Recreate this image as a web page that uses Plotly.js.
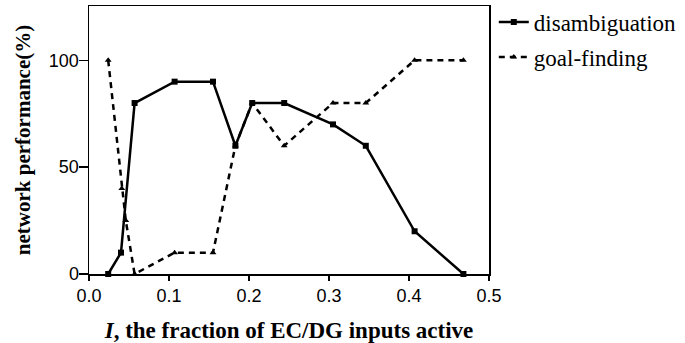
<!DOCTYPE html>
<html>
<head>
<meta charset="utf-8">
<script src="https://cdn.plot.ly/plotly-3.0.1.min.js"></script>
<style>html,body{margin:0;padding:0;background:#fff;}#chart{width:685px;height:343px;}</style>
</head>
<body>
<div id="chart"></div>
<script>
const disambigX = [0.024, 0.040, 0.057, 0.107, 0.155, 0.183, 0.204, 0.244, 0.305, 0.346, 0.407, 0.468];
const disambigY = [0, 10, 80, 90, 90, 60, 80, 80, 70, 60, 20, 0];
const goalX = [0.024, 0.041, 0.046, 0.057, 0.107, 0.155, 0.183, 0.204, 0.244, 0.305, 0.346, 0.407, 0.468];
const goalY = [100, 40, 25, 0, 10, 10, 60, 80, 60, 80, 80, 100, 100];
const xTicks = [0, 0.1, 0.2, 0.3, 0.4, 0.5];
const xTickLabels = ['0.0', '0.1', '0.2', '0.3', '0.4', '0.5'];
const yTicks = [0, 50, 100];
const yTickLabels = ['0', '50', '100'];

const serif = '"Liberation Serif", "Times New Roman", serif';
const sans = '"Liberation Sans", Arial, sans-serif';

const traces = [
  {x: disambigX, y: disambigY, name: 'disambiguation', mode: 'lines+markers', legendgroup: 'a',
   line: {color: '#000', width: 2.5}, marker: {symbol: 'square', size: 6, color: '#000'}, cliponaxis: false},
  {x: goalX, y: goalY, name: 'goal-finding', mode: 'lines+markers', legendgroup: 'b',
   line: {color: '#000', width: 2.5, dash: '6px,5px'}, marker: {symbol: 'triangle-up', size: 6, color: '#000'}, cliponaxis: false}
];

const layout = {
  width: 685, height: 343,
  margin: {l: 89, r: 196, t: 0, b: 69},
  paper_bgcolor: '#fff', plot_bgcolor: '#fff',
  showlegend: true,
  legend: {x: 1.012, y: 0.998, xanchor: 'left', yanchor: 'top', traceorder: 'grouped', tracegroupgap: 2,
           font: {family: serif, size: 23, color: '#000'},
           bgcolor: 'rgba(0,0,0,0)'},
  xaxis: {range: [0, 0.5], tickvals: xTicks, ticktext: xTickLabels, showgrid: false, zeroline: false,
          showline: true, linecolor: '#000', linewidth: 1.5, mirror: true, ticks: 'outside', ticklen: 5,
          tickcolor: '#000', tickwidth: 1.5,
          tickfont: {family: sans, size: 18, color: '#000'},
          title: {text: '<i>I</i>, the fraction of EC/DG inputs active', standoff: 20,
                  font: {family: serif, size: 23, color: '#000', weight: 'bold'}}},
  yaxis: {domain: [0, 0.9781], range: [0, 125.4], tickvals: yTicks, ticktext: yTickLabels, showgrid: false, zeroline: false,
          showline: true, linecolor: '#000', linewidth: 1.5, mirror: true, ticks: 'outside', ticklen: 9,
          tickcolor: '#000', tickwidth: 1.5, ticklabelstandoff: -4,
          tickfont: {family: sans, size: 18, color: '#000'},
          title: {text: 'network performance(%)', standoff: 12,
                  font: {family: serif, size: 21, color: '#000', weight: 'bold'}}}
};

Plotly.newPlot('chart', traces, layout, {displayModeBar: false, staticPlot: true});
</script>
</body>
</html>
